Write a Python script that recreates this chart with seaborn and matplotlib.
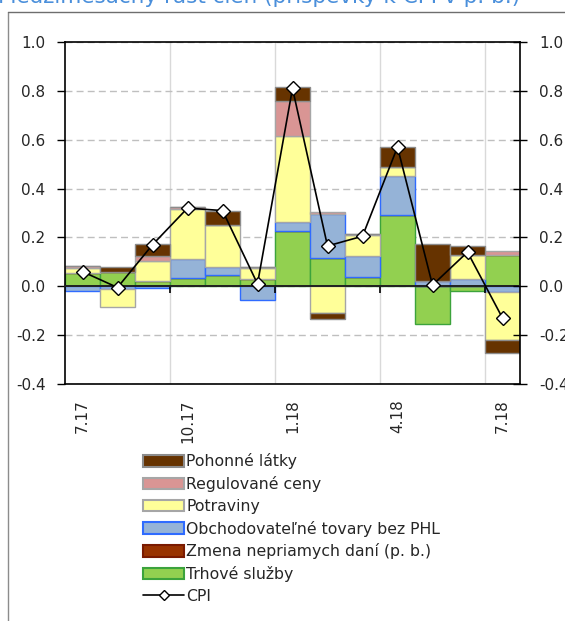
import numpy as np
import matplotlib
matplotlib.use('Agg')
import matplotlib.pyplot as plt
from matplotlib.patches import Patch
from matplotlib.lines import Line2D
import seaborn as sns

# months on the x axis, only every third one gets a label
months = ['7.17', '8.17', '9.17', '10.17', '11.17', '12.17', '1.18',
          '2.18', '3.18', '4.18', '5.18', '6.18', '7.18']
shown_idx = [0, 3, 6, 9, 12]

# contributions to m/m CPI (p. b.)
trhove_sluzby = [0.055, 0.058, 0.02, 0.035, 0.045, 0.03, 0.225, 0.115, 0.04, 0.29, -0.155, -0.02, 0.13]
zmena_dani = [0.0] * 13
obchodovatelne = [-0.02, -0.01, -0.005, 0.075, 0.035, -0.055, 0.04, 0.18, 0.085, 0.16, 0.022, 0.03, -0.025]
potraviny = [0.02, -0.075, 0.082, 0.205, 0.17, 0.045, 0.35, -0.11, 0.085, 0.04, 0.0, 0.1, -0.195]
regulovane = [0.01, 0.0, 0.02, 0.01, 0.0, 0.005, 0.145, 0.01, 0.005, 0.0, 0.0, 0.0, 0.015]
pohonne = [0.0, 0.02, 0.05, 0.0, 0.06, 0.0, 0.055, -0.025, 0.0, 0.08, 0.153, 0.033, -0.055]
cpi = [0.06, -0.005, 0.17, 0.32, 0.31, 0.01, 0.81, 0.165, 0.205, 0.57, 0.005, 0.14, -0.13]

# stacking order bottom -> top
series = [
    ('Trhové služby', trhove_sluzby, '#92D050', '#3CA33C'),
    ('Zmena nepriamych daní (p. b.)', zmena_dani, '#993300', '#7a1a00'),
    ('Obchodovateľné tovary bez PHL', obchodovatelne, '#95B3D7', '#2F6BFF'),
    ('Potraviny', potraviny, '#FFFF99', '#A6A6A6'),
    ('Regulované ceny', regulovane, '#D99594', '#A6A6A6'),
    ('Pohonné látky', pohonne, '#663300', '#8C8C8C'),
]

sns.set_style('white')
plt.rcParams['font.family'] = ['DejaVu Sans']
plt.rcParams['axes.unicode_minus'] = False

fig = plt.figure(figsize=(5.65, 6.21), dpi=100)
ax = fig.add_axes([65 / 565, 1 - 384 / 621, (520 - 65) / 565, (384 - 42) / 621])

x = np.arange(len(months))
pos_base = np.zeros(len(months))
neg_base = np.zeros(len(months))
for name, vals, fc, ec in series:
    vals = np.array(vals)
    bottoms = np.where(vals >= 0, pos_base, neg_base)
    ax.bar(x, vals, bottom=bottoms, width=1.0, color=fc, edgecolor=ec,
           linewidth=1.0, zorder=2)
    pos_base = pos_base + np.clip(vals, 0, None)
    neg_base = neg_base + np.clip(vals, None, 0)

sns.lineplot(x=x, y=cpi, ax=ax, color='black', linewidth=1.2, marker='D',
             markersize=7.5, markerfacecolor='white', markeredgecolor='black',
             markeredgewidth=1.0, zorder=5)

ax.set_xlim(-0.5, len(months) - 0.5)
ax.set_ylim(-0.4, 1.0)
yt = np.round(np.arange(-0.4, 1.01, 0.2), 1)
ax.set_yticks(yt)
ax.set_yticklabels(['%.1f' % v for v in yt], fontsize=11)
ax.yaxis.grid(True, linestyle=(0, (5, 3)), color='#BFBFBF', linewidth=1.0)
ax.set_xticks(x[shown_idx])
ax.set_xticklabels([months[i] for i in shown_idx], rotation=90, fontsize=11)
ax.set_xticks([2.5, 5.5, 8.5, 11.5], minor=True)
ax.xaxis.grid(True, which='minor', color='#D9D9D9', linewidth=1.0)
ax.tick_params(axis='x', which='both', length=0, pad=11)
ax.tick_params(axis='y', direction='out', length=6, width=1, color='black', left=True, pad=8)
ax.set_axisbelow(True)
for sp in ax.spines.values():
    sp.set_color('black')
    sp.set_linewidth(1.2)

# category axis crossing at zero
ax.axhline(0, color='black', linewidth=1.2, zorder=4)
zero_ax = ax.secondary_xaxis(0.4 / 1.4)
zero_ax.set_xticks([2.5, 5.5, 8.5, 11.5])
zero_ax.set_xticklabels([])
zero_ax.tick_params(direction='out', length=5, width=1.2, color='black')
zero_ax.spines['bottom'].set_linewidth(1.2)
zero_ax.set_zorder(4)

ax_r = ax.twinx()
ax_r.set_ylim(ax.get_ylim())
ax_r.set_yticks(yt)
ax_r.set_yticklabels(['%.1f' % v for v in yt], fontsize=11)
ax_r.tick_params(axis='y', direction='inout', length=10, width=1, color='black', right=True, pad=9)
for sp in ax_r.spines.values():
    sp.set_visible(False)

# legend below the plot
handles = [Patch(facecolor=fc, edgecolor=ec, linewidth=1.5, label=name)
           for name, vals, fc, ec in series[::-1]]
handles.append(Line2D([], [], color='black', linewidth=1.2, marker='D', markersize=5,
                      markerfacecolor='white', markeredgecolor='black', label='CPI'))
fig.legend(handles=handles, loc='upper left', bbox_to_anchor=(137 / 565, 1 - 447 / 621),
           frameon=False, fontsize=11.3, handlelength=2.6, handleheight=0.75,
           handletextpad=0.15, labelspacing=0.43, borderaxespad=0)

# title, mostly cut off at the top like the source screenshot
fig.text(-0.004, 1 - 3 / 621, 'Medzimesačný rast cien (príspevky k CPI v p. b.)',
         color='#4A8FDB', fontsize=15.5, va='baseline', ha='left')

# outer frame of the screenshot
fig.add_artist(Line2D([8 / 565, 8 / 565], [0, 1 - 12 / 621], color='#8C8C8C',
                      linewidth=1.0, transform=fig.transFigure))
fig.add_artist(Line2D([8 / 565, 1], [1 - 12 / 621, 1 - 12 / 621], color='#6E6E6E',
                      linewidth=1.0, transform=fig.transFigure))

fig.savefig('out.png', dpi=100)
